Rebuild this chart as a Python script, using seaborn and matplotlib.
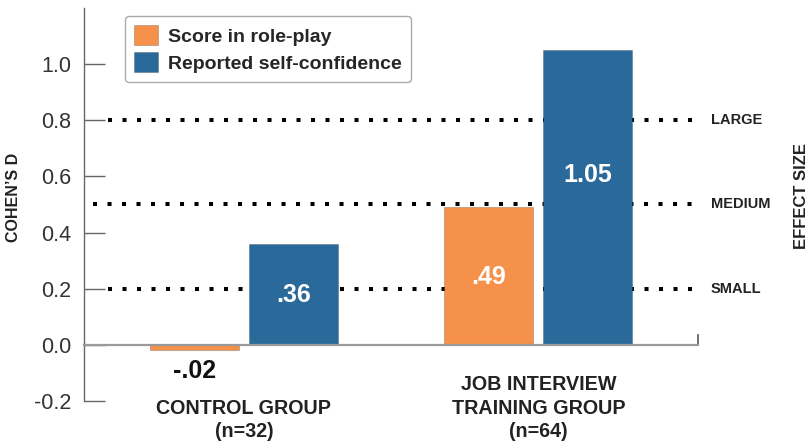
import pandas as pd
import matplotlib
matplotlib.use("Agg")
import matplotlib.pyplot as plt
import matplotlib.transforms as mtransforms
import seaborn as sns

# data
groups = ["CONTROL GROUP\n(n=32)", "JOB INTERVIEW\nTRAINING GROUP\n(n=64)"]
measures = ["Score in role-play", "Reported self-confidence"]
role_play = [-0.02, 0.49]
confidence = [0.36, 1.05]
thresholds = [0.2, 0.5, 0.8]
threshold_names = ["SMALL", "MEDIUM", "LARGE"]

df = pd.DataFrame({
    "group": groups * 2,
    "measure": [measures[0]] * 2 + [measures[1]] * 2,
    "d": role_play + confidence,
})

sns.set_theme(style="white")
plt.rcParams["font.family"] = ["Liberation Sans", "DejaVu Sans"]
plt.rcParams["axes.unicode_minus"] = False

orange = "#F5914A"
blue = "#2A6A9B"

fig = plt.figure(figsize=(8.09, 4.44), dpi=100)
ax = fig.add_axes([84 / 809, 43 / 444, 614 / 809, 393 / 444])

sns.barplot(data=df, x="group", y="d", hue="measure", palette=[orange, blue],
            saturation=1, width=0.672, gap=0.1, edgecolor=(0, 0, 0, 0.2),
            linewidth=0.7, ax=ax, zorder=3)

ax.set_xlim(-0.543, 1.542)
ax.set_ylim(-0.2, 1.2)

# dotted effect-size reference lines
starts = {0.2: 0.039, 0.5: 0.015, 0.8: 0.039}
for t, name in zip(thresholds, threshold_names):
    ax.axhline(t, xmin=starts[t], xmax=0.998, color="black", lw=2.9,
               linestyle=(0, (1, 2.6)), dash_capstyle="butt", zorder=1)
    ax.text(1.021, t, name, transform=mtransforms.blended_transform_factory(ax.transAxes, ax.transData),
            ha="left", va="center", fontsize=10.5, fontweight="bold", color="#222222")

# value labels
label_y = [[-0.093, 0.242], [0.178, 0.605]]
for k, cont in enumerate(ax.containers):
    for j, bar in enumerate(cont):
        v = [role_play, confidence][k][j]
        txt = f"{v:.2f}".replace("0.", ".")
        col = "#111111" if v < 0 else "white"
        ax.text(bar.get_x() + bar.get_width() / 2, label_y[k][j], txt,
                ha="center", va="center", fontsize=18, fontweight="bold", color=col, zorder=5)

# spines
sns.despine(ax=ax, top=True, right=False)
ax.spines["left"].set_color("#666666")
ax.spines["left"].set_linewidth(1.0)
ax.spines["bottom"].set_position(("data", 0))
ax.spines["bottom"].set_color("#9a9a9a")
ax.spines["bottom"].set_linewidth(1.6)
ax.spines["bottom"].set_zorder(4)
ax.spines["right"].set_bounds(0, 0.036)
ax.spines["right"].set_color("#555555")
ax.spines["right"].set_linewidth(1.2)

ax.set_yticks([-0.2, 0.0, 0.2, 0.4, 0.6, 0.8, 1.0])
ax.set_yticklabels([f"{t:.1f}" for t in [-0.2, 0.0, 0.2, 0.4, 0.6, 0.8, 1.0]])
ax.tick_params(axis="y", direction="in", length=15, width=1, color="#666666",
               labelsize=15.5, labelcolor="#333333", pad=9, left=True)
ax.set_xticks([])
ax.set_xlabel("")
ax.set_ylabel("")

# group labels under the bars
trans = mtransforms.blended_transform_factory(ax.transData, fig.transFigure)
for i, g in enumerate(groups):
    ax.text(i, 3 / 444, g, transform=trans, ha="center", va="bottom",
            multialignment="center", fontsize=14.2, fontweight="bold",
            color="#222222", linespacing=1.3)

fig.text(14 / 809, 1 - 197 / 444, "COHEN\u2019S D", rotation=90, ha="center", va="center",
         fontsize=11.5, fontweight="bold", color="#222222")
fig.text(802 / 809, 1 - 196 / 444, "EFFECT SIZE", rotation=90, ha="center", va="center",
         fontsize=12, fontweight="bold", color="#222222")

ax.legend(loc="upper left", bbox_to_anchor=(0.0668, 0.98), borderaxespad=0,
          frameon=True, fancybox=True, edgecolor="#aaaaaa", framealpha=1,
          prop={"weight": "bold", "size": 14}, handlelength=1.22, handleheight=1.22,
          handletextpad=0.5, labelspacing=0.32, borderpad=0.48, title=None)

fig.savefig("out.png", dpi=100)
